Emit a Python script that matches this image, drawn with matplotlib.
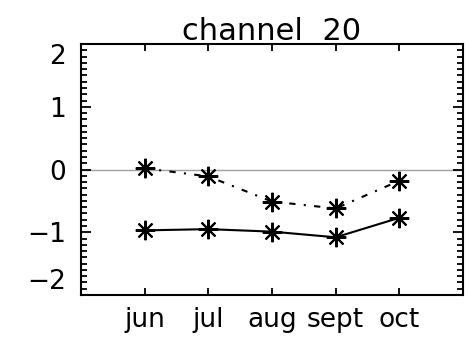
import matplotlib
matplotlib.use('Agg')
import matplotlib.pyplot as plt
from matplotlib.ticker import MultipleLocator

months = ['jun', 'jul', 'aug', 'sept', 'oct']
x_pos = [1, 2, 3, 4, 5]
upper = [0.02, -0.11, -0.51, -0.62, -0.18]
lower = [-0.97, -0.95, -0.99, -1.08, -0.77]

plt.rcParams['font.family'] = 'DejaVu Sans'

fig = plt.figure(figsize=(4.7, 3.39), dpi=100)
ax = fig.add_axes([0.1723, 0.1298, 0.8127, 0.7402])

ax.axhline(0, color='#a0a0a0', lw=1.0, zorder=1)

star = (8, 2, 0)
ax.plot(x_pos, upper, color='black', lw=1.5, linestyle=(0, (3, 4, 1, 4)),
        marker=star, ms=14, mew=1.5, zorder=3)
ax.plot(x_pos, lower, color='black', lw=1.5, linestyle='-',
        marker=star, ms=14, mew=1.5, zorder=3)

ax.set_xlim(0, 6)
ax.set_ylim(-2, 2)
ax.set_xticks(x_pos)
ax.set_xticklabels(months, fontsize=19)
ax.set_yticks([-2, -1, 0, 1, 2])
ax.set_yticklabels(['\u22122', '\u22121', '0', '1', '2'], fontsize=19)
ax.yaxis.set_minor_locator(MultipleLocator(0.1))

ax.tick_params(axis='x', which='major', direction='in', length=5, width=1.3,
               top=True, bottom=True, pad=9)
ax.tick_params(axis='y', which='major', direction='in', length=7, width=1.3,
               left=True, right=True, pad=11)
ax.tick_params(axis='y', which='minor', direction='in', length=4, width=1.3,
               left=True, right=True)

# end labels sit inside the frame
ylabels = ax.get_yticklabels()
ylabels[0].set_va('bottom')
ylabels[-1].set_va('top')

for s in ax.spines.values():
    s.set_linewidth(1.5)

ax.set_title('channel  20', fontsize=22, pad=3)

fig.savefig('out.png', dpi=100)
